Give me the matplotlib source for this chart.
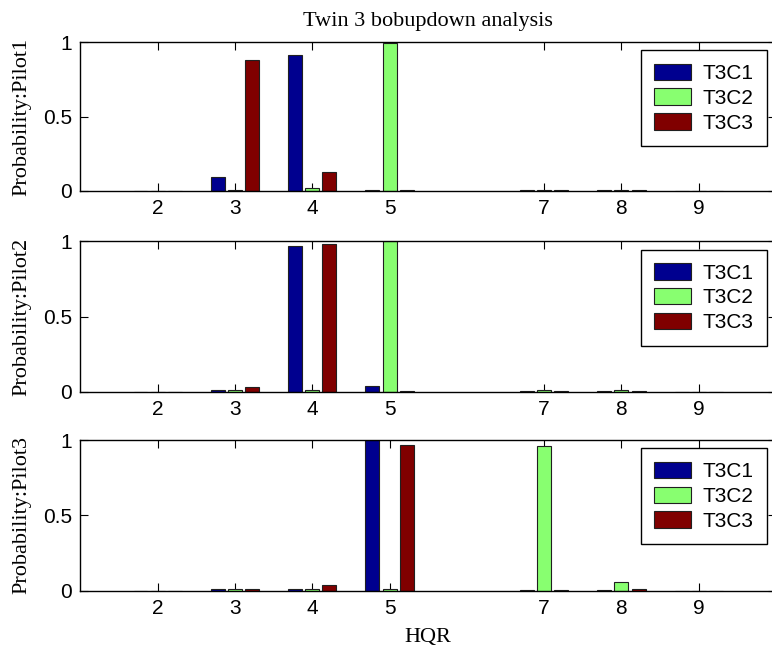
import matplotlib
matplotlib.use('Agg')
import matplotlib.pyplot as plt
import numpy as np

# ---- data ----
hqr = [2, 3, 4, 5, 7, 8, 9]
series_names = ['T3C1', 'T3C2', 'T3C3']

pilot1_c1 = [0.002, 0.095, 0.915, 0.010, 0.005, 0.005, 0.001]
pilot1_c2 = [0.001, 0.010, 0.020, 0.990, 0.008, 0.008, 0.001]
pilot1_c3 = [0.002, 0.880, 0.125, 0.005, 0.005, 0.005, 0.001]

pilot2_c1 = [0.001, 0.008, 0.970, 0.040, 0.005, 0.005, 0.001]
pilot2_c2 = [0.001, 0.010, 0.010, 1.000, 0.008, 0.008, 0.001]
pilot2_c3 = [0.001, 0.030, 0.980, 0.005, 0.005, 0.005, 0.001]

pilot3_c1 = [0.001, 0.008, 0.008, 1.000, 0.005, 0.005, 0.001]
pilot3_c2 = [0.001, 0.008, 0.008, 0.008, 0.960, 0.055, 0.001]
pilot3_c3 = [0.001, 0.008, 0.040, 0.970, 0.005, 0.008, 0.001]

ylabels = ['Probability:Pilot1', 'Probability:Pilot2', 'Probability:Pilot3']
yticks = [0, 0.5, 1]
ytick_labels = ['0', '0.5', '1']
title = 'Twin 3 bobupdown analysis'
xlabel = 'HQR'

pilots = [
    [pilot1_c1, pilot1_c2, pilot1_c3],
    [pilot2_c1, pilot2_c2, pilot2_c3],
    [pilot3_c1, pilot3_c2, pilot3_c3],
]

colors = ['#00008F', '#88FF70', '#800000']
sans = ['Liberation Sans', 'DejaVu Sans']
serif = ['Liberation Serif', 'DejaVu Serif']

fig = plt.figure(figsize=(7.72, 6.51), dpi=100)

left = 80.4 / 772
width = (776 - 80.4) / 772
tops_px = [42, 241.3, 440]
bottoms_px = [191, 391.7, 590.7]

offsets = [-0.222, 0.0, 0.222]
bw = 0.18
x = np.array(hqr, dtype=float)

axes = []
for i, data in enumerate(pilots):
    b = 1 - bottoms_px[i] / 651
    h = (bottoms_px[i] - tops_px[i]) / 651
    ax = fig.add_axes([left, b, width, h])
    for k, vals in enumerate(data):
        ax.bar(x + offsets[k], vals, width=bw, color=colors[k],
               edgecolor='#202020', linewidth=0.8, label=series_names[k], zorder=2)
    ax.set_xlim(1, 10)
    ax.set_ylim(0, 1)
    ax.set_xticks(hqr)
    ax.set_xticklabels([str(v) for v in hqr], fontfamily=sans, fontsize=15)
    ax.set_yticks(yticks)
    ax.set_yticklabels(ytick_labels, fontfamily=sans, fontsize=15)
    ax.tick_params(direction='in', length=6, width=0.8, top=True, right=True,
                   pad=6, colors='black')
    for s in ax.spines.values():
        s.set_linewidth(1.0)
        s.set_zorder(5)
    ax.set_ylabel(ylabels[i], fontfamily=serif, fontsize=16, labelpad=8)
    leg = ax.legend(loc='upper right', bbox_to_anchor=(0.987, 0.945),
                    prop={'family': sans, 'size': 15}, frameon=True,
                    fancybox=False, edgecolor='black', framealpha=1,
                    handlelength=1.75, handleheight=0.85, labelspacing=0.25,
                    borderpad=0.65, handletextpad=0.55, borderaxespad=0)
    leg.get_frame().set_linewidth(1.0)
    axes.append(ax)

axes[0].set_title(title, fontfamily=serif, fontsize=16, pad=11.5)
axes[2].set_xlabel(xlabel, fontfamily=serif, fontsize=16, labelpad=7)

fig.savefig('out.png', dpi=100)
